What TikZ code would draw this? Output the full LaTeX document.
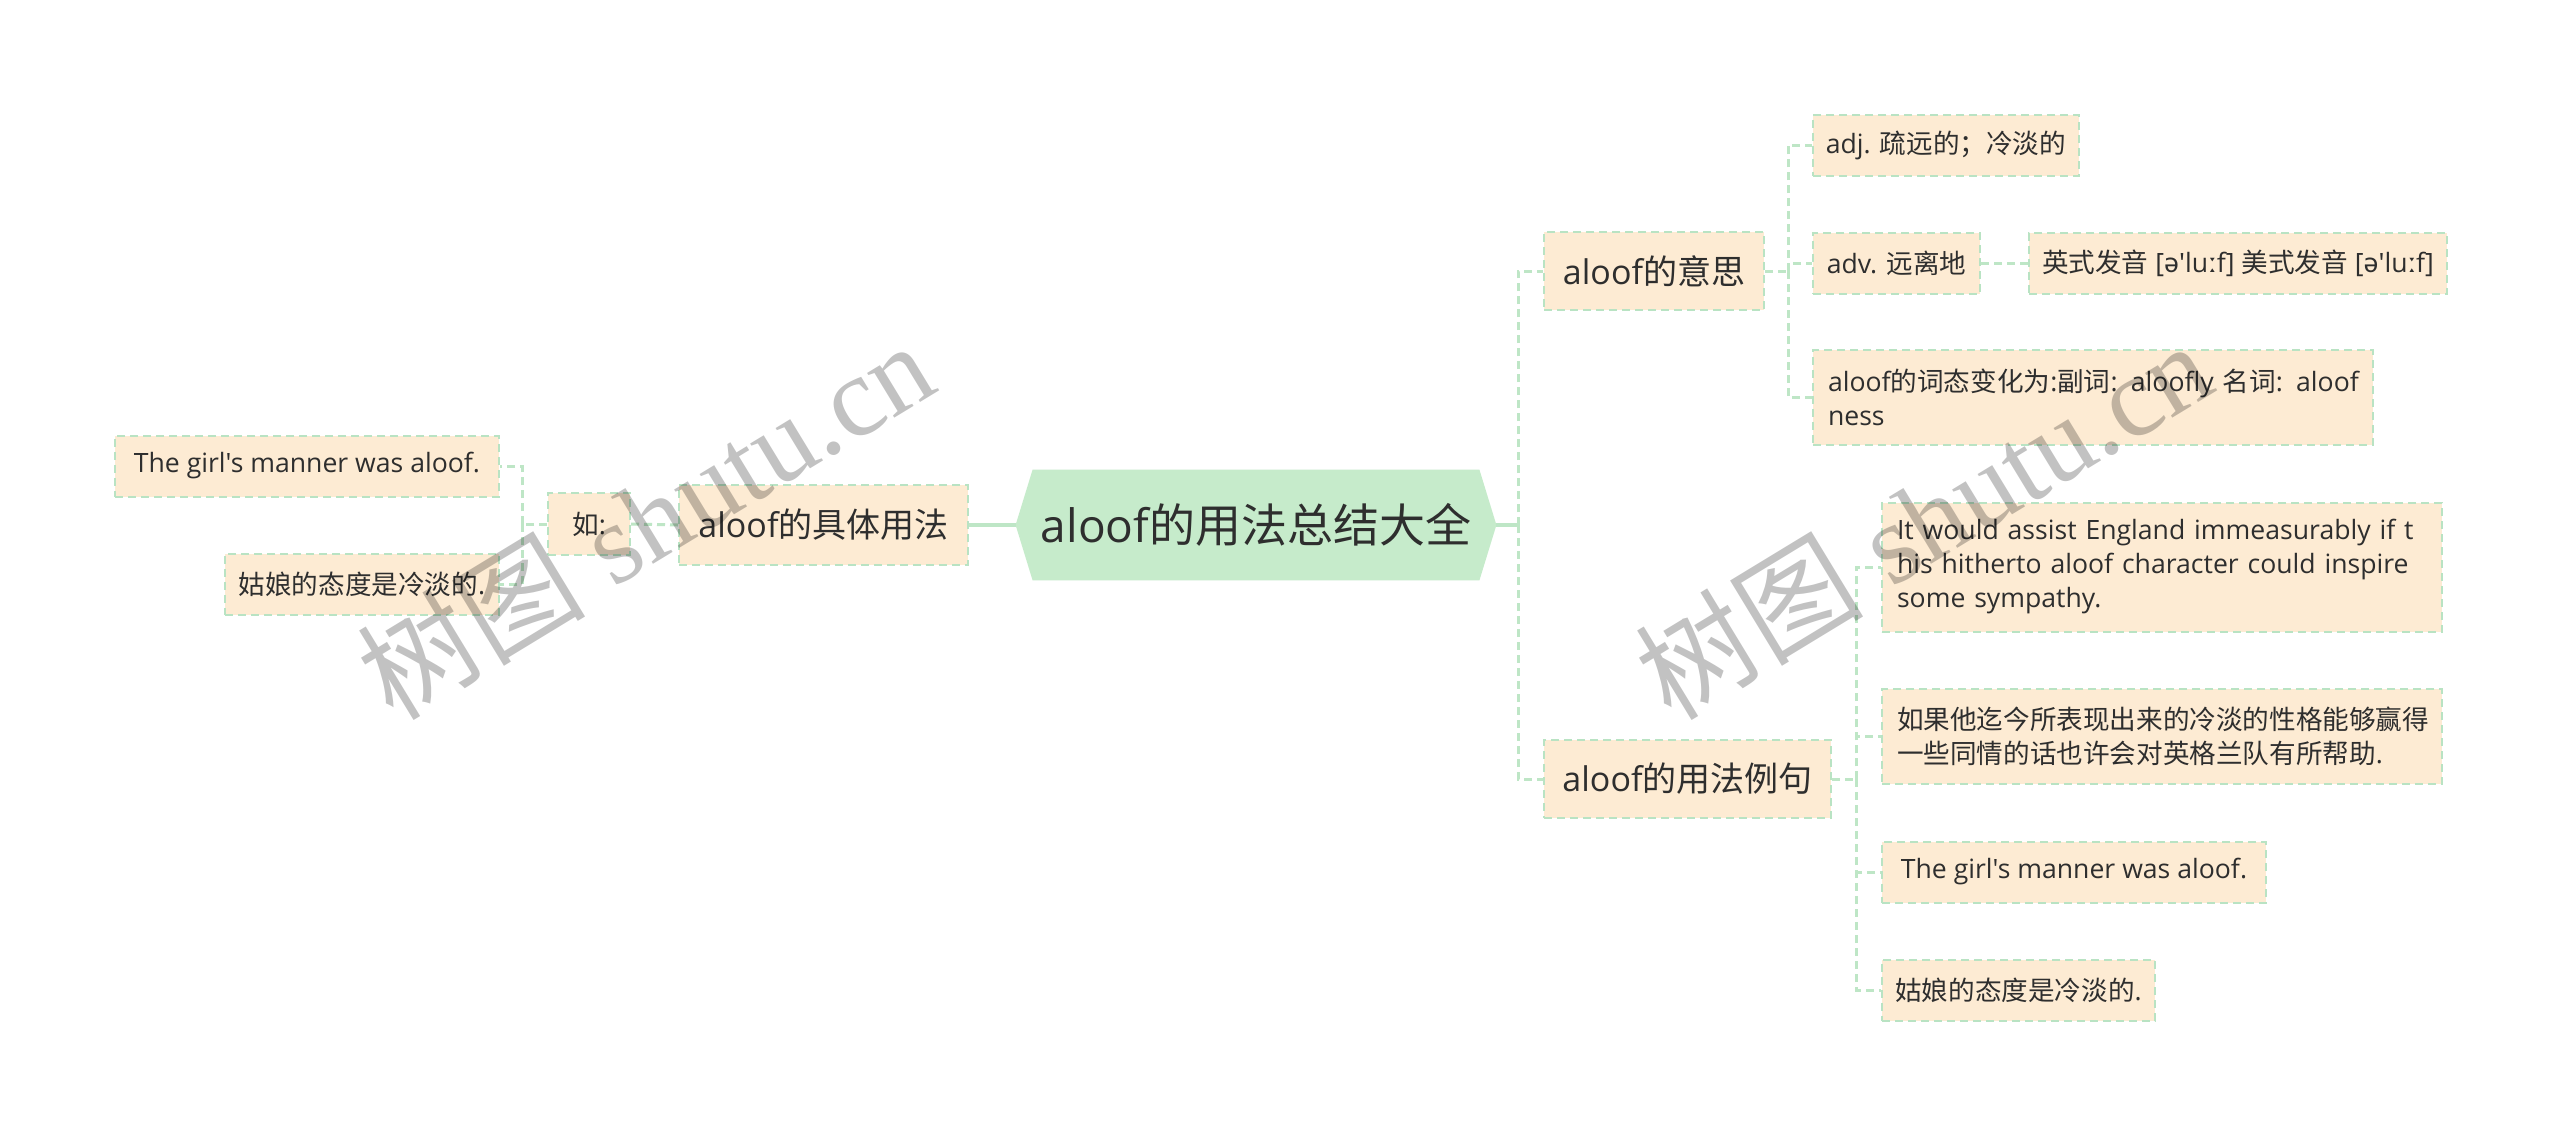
\documentclass[tikz,border=0pt]{standalone}
\usepackage{fontspec}
\setmainfont{Open Sans}[Ligatures=TeXOff]
\newfontfamily\cjk{Noto Sans CJK SC}
\newfontfamily\ipafont{Noto Sans}[Ligatures=TeXOff]
\newfontfamily\wmserif{Liberation Serif}
\newcommand\C[1]{{\cjk #1}}
\newcommand\IP[1]{{\ipafont #1}}
\usetikzlibrary{calc,backgrounds}
\definecolor{beige}{HTML}{FDEBD3}
\definecolor{lgreen}{HTML}{B9E3C3}
\definecolor{cgreen}{HTML}{BEE6C6}
\definecolor{rootfill}{HTML}{C6EBCB}
\definecolor{txt}{HTML}{2E2E2E}
\tikzset{
  box/.style={draw=lgreen, dash pattern=on 4pt off 2.5pt, line width=1pt, fill=beige,
    text=txt, inner sep=0pt, anchor=west, font=\fontsize{13.3}{17}\selectfont},
  mid/.style={box, font=\fontsize{17}{22}\selectfont},
  multi/.style={box, align=left, inner xsep=7.5pt},
  conn/.style={draw=cgreen, line width=1.5pt, dash pattern=on 4pt off 2.5pt},
  solidc/.style={draw=cgreen, line width=1.6pt},
  wm/.style={text=black, opacity=0.24, rotate=31.3, inner sep=0pt},
}
\begin{document}
\begin{tikzpicture}[x=0.5pt,y=-0.5pt]
\useasboundingbox (0,0) rectangle (2560,1135);

% root
\node[inner sep=0pt, minimum width=240pt, minimum height=55pt, text=txt,
      font=\fontsize{23}{28}\selectfont] (root) at (1256,525) {aloof\C{的用法总结大全}};

% left side
\node[mid, minimum width=144.5pt, minimum height=40pt] (jt) at (678,525) {aloof\C{的具体用法}};
\node[box, minimum width=41pt, minimum height=31pt] (ru) at (547,524) {\C{如}:};
\node[box, minimum width=192pt, minimum height=30.5pt] (L1) at (114,466) {The girl's manner was aloof.};
\node[box, minimum width=137pt, minimum height=30.5pt] (L2) at (224,584) {\C{姑娘的态度是冷淡的}.};

% right first level
\node[mid, minimum width=110pt, minimum height=39pt] (ys) at (1543,271) {aloof\C{的意思}};
\node[mid, minimum width=143.5pt, minimum height=39pt] (lj) at (1543,779) {aloof\C{的用法例句}};

% meaning children
\node[box, minimum width=133pt, minimum height=30.5pt] (adj) at (1812,145) {adj. \C{疏远的；冷淡的}};
\node[box, minimum width=83.5pt, minimum height=30.5pt] (adv) at (1812,263) {adv. \C{远离地}};
\node[box, minimum width=209pt, minimum height=30.5pt] (ipa) at (2028,263)
  {\C{英式发音} [\IP{ə'}lu\IP{ː}f] \C{美式发音} [\IP{ə'}lu\IP{ː}f]};
\node[multi, text width=265pt, minimum height=47.5pt] (bt) at (1812,397)
  {\mbox{aloof\C{的词态变化为}:\C{副词}: aloofly \C{名词}: aloof}\\ness};

% example children
\node[multi, text width=265pt, minimum height=64.5pt] (e1) at (1881,567)
  {\mbox{It would assist England immeasurably if t}\\\mbox{his hitherto aloof character could inspire}\\some sympathy.};
\node[multi, text width=265pt, minimum height=47.5pt] (e2) at (1881,736)
  {\C{如果他迄今所表现出来的冷淡的性格能够赢得}\\\C{一些同情的话也许会对英格兰队有所帮助}.};
\node[box, minimum width=192pt, minimum height=30.5pt] (e3) at (1881,872) {The girl's manner was aloof.};
\node[box, minimum width=136.5pt, minimum height=30.5pt] (e4) at (1881,990) {\C{姑娘的态度是冷淡的}.};

% connectors
\coordinate (bl) at (522,524);
\coordinate (br) at (1518,525);
\coordinate (b1) at (1788,271);
\coordinate (b2) at (1856,779);
\begin{scope}[on background layer]
\fill[white] (0,0) rectangle (2560,1135);
\fill[rootfill] (root.west) -- ($(root.north west)+(17,0)$) -- ($(root.north east)+(-17,0)$)
  -- (root.east) -- ($(root.south east)+(-17,0)$) -- ($(root.south west)+(17,0)$) -- cycle;
\draw[solidc] (root.west) -- (jt.east);
\draw[conn] (jt.west) -- (ru.east);
\draw[conn] (ru.west) -- (bl);
\draw[conn] (bl) |- (L1.east);
\draw[conn] (bl) |- (L2.east);
\draw[solidc] (root.east) -- (br);
\draw[conn] (br) |- (ys.west);
\draw[conn] (br) |- (lj.west);
\draw[conn] (ys.east) -- (b1);
\draw[conn] (b1) |- (adj.west);
\draw[conn] (b1) |- (adv.west);
\draw[conn] (b1) |- (bt.west);
\draw[conn] (adv.east) -- (ipa.west);
\draw[conn] (lj.east) -- (b2);
\draw[conn] (b2) |- (e1.west);
\draw[conn] (b2) |- (e2.west);
\draw[conn] (b2) |- (e3.west);
\draw[conn] (b2) |- (e4.west);
\end{scope}

% watermarks
\node[wm, font=\fontsize{57}{60}\selectfont] (wm1) at (645,519) {\C{树图} {\wmserif shutu.cn}};
\node[wm, font=\fontsize{57}{60}\selectfont] (wm2) at (1923,519) {\C{树图} {\wmserif shutu.cn}};
\end{tikzpicture}
\end{document}
